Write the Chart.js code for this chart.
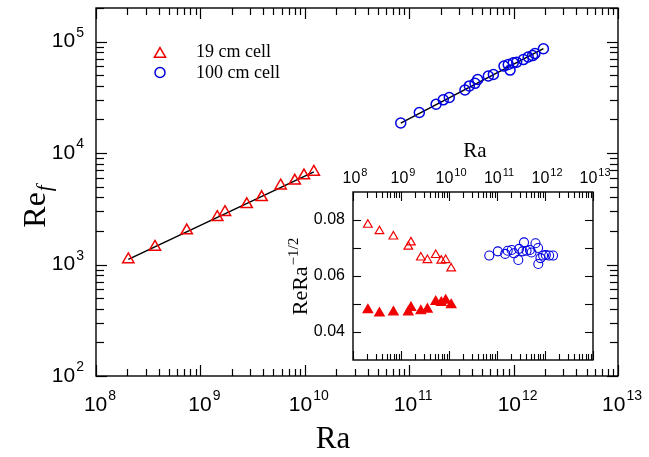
<!DOCTYPE html>
<html>
<head>
<meta charset="utf-8">
<script src="https://cdn.jsdelivr.net/npm/chart.js@4.4.1/dist/chart.umd.min.js"></script>
<style>
  html, body { margin: 0; padding: 0; background: #fff; }
  #wrap { position: relative; width: 649px; height: 457px; }
  #main { position: absolute; left: 0; top: 0; }
  #inset { position: absolute; left: 270px; top: 130px; }
</style>
</head>
<body>
<div id="wrap">
  <canvas id="main" width="649" height="457"></canvas>
  <canvas id="inset" width="360" height="240"></canvas>
</div>
<script>
// main plot: Re_f against Ra
const raSmall = [2.04e8, 3.67e8, 7.40e8, 1.45e9, 1.72e9, 2.78e9, 3.86e9, 5.87e9, 8.02e9, 9.82e9, 1.22e10];
const reSmall = [1112, 1439, 2014, 2661, 2944, 3467, 4009, 5093, 5636, 6281, 6776];
const raBig = [8.30e10, 1.25e11, 1.81e11, 2.12e11, 2.42e11, 3.42e11, 3.77e11, 4.27e11, 4.53e11, 5.73e11, 6.40e11,
               8.09e11, 8.89e11, 9.25e11, 9.93e11, 1.07e12, 1.24e12, 1.38e12, 1.52e12, 1.60e12, 1.93e12];
const reBig = [18580, 23120, 27420, 29990, 31480, 36810, 39990, 42170, 45710, 49090, 50700,
               60260, 62230, 55460, 64420, 65310, 68870, 72780, 74820, 77980, 86300];

// fitted lines, end points
const fitSmallRa = [2.04e8, 1.22e10];
const fitSmallRe = [1112, 6776];
const fitBigRa = [8.30e10, 1.93e12];
const fitBigRe = [18580, 86300];

// inset: Re Ra^-1/2
const insetRaSmall = [2.04e8, 3.56e8, 6.94e8, 1.42e9, 1.61e9, 2.59e9, 3.55e9, 5.29e9, 6.90e9, 8.51e9, 1.11e10];
const insetOpen = [0.0783, 0.0760, 0.0741, 0.0705, 0.0720, 0.0666, 0.0657, 0.0675, 0.0655, 0.0657, 0.0627];
const insetFilled = [0.0479, 0.0467, 0.0471, 0.0471, 0.0487, 0.0475, 0.0481, 0.0508, 0.0505, 0.0513, 0.0497];
const insetRaBig = [6.90e10, 1.04e11, 1.48e11, 1.67e11, 2.02e11, 2.26e11, 2.78e11, 2.88e11, 3.41e11, 3.65e11, 4.13e11,
                    4.85e11, 5.24e11, 6.34e11, 7.19e11, 7.25e11, 8.04e11, 9.14e11, 1.04e12, 1.22e12, 1.47e12];
const insetBig = [0.0673, 0.0688, 0.0679, 0.0690, 0.0693, 0.0681, 0.0657, 0.0697, 0.0688, 0.0720, 0.0690,
                  0.0693, 0.0684, 0.0717, 0.0700, 0.0643, 0.0664, 0.0673, 0.0675, 0.0673, 0.0673];

// tick labels
const xExps = [8, 9, 10, 11, 12, 13];
const yExps = [2, 3, 4, 5];
const insetYTicks = [0.04, 0.06, 0.08];
const insetYMinor = [0.05, 0.07];
const legendLabels = ['19 cm cell', '100 cm cell'];

const RED = '#f00000';
const BLUE = '#0000e0';
const SANS = '"Liberation Sans", Arial, sans-serif';
const SERIF = '"Liberation Serif", "Times New Roman", serif';

function pts(xs, ys) {
    return xs.map((v, i) => ({x: v, y: ys[i]}));
}

// 1..9 x 10^e inside [min, max]
function logTicks(min, max) {
    const out = [];
    for (let e = Math.floor(Math.log10(min)); e <= Math.ceil(Math.log10(max)); e++) {
        for (let k = 1; k <= 9; k++) {
            const v = k * Math.pow(10, e);
            if (v >= min * 0.999 && v <= max * 1.001) out.push({v: v, major: k === 1});
        }
    }
    return out;
}

function seg(ctx, x1, y1, x2, y2) {
    ctx.beginPath();
    ctx.moveTo(x1, y1);
    ctx.lineTo(x2, y2);
    ctx.stroke();
}

// "10" with superscript exponent
function powLabel(ctx, exp, x, y, align, size, supSize) {
    ctx.font = size + 'px ' + SANS;
    const w1 = ctx.measureText('10').width;
    ctx.font = supSize + 'px ' + SANS;
    const w2 = ctx.measureText(String(exp)).width;
    const total = w1 + w2 + 1;
    const left = align === 'right' ? x - total : x - total / 2;
    ctx.textAlign = 'left';
    ctx.textBaseline = 'middle';
    ctx.font = size + 'px ' + SANS;
    ctx.fillText('10', left, y);
    ctx.font = supSize + 'px ' + SANS;
    ctx.fillText(String(exp), left + w1 + 1, y - size * 0.4);
}

function marker(ctx, style, r, x, y, color, fill) {
    ctx.save();
    ctx.strokeStyle = color;
    ctx.fillStyle = fill ? color : 'rgba(0,0,0,0)';
    ctx.lineWidth = 1.5;
    Chart.helpers.drawPoint(ctx, {pointStyle: style, radius: r, borderWidth: 1.5, rotation: 0}, x, y);
    ctx.restore();
}

const mainDecor = {
    id: 'mainDecor',
    afterDraw(chart) {
        const {ctx, chartArea: a, scales: {x, y}} = chart;
        ctx.save();
        ctx.strokeStyle = '#000';
        ctx.fillStyle = '#000';
        ctx.lineWidth = 1.4;
        ctx.strokeRect(a.left, a.top, a.right - a.left, a.bottom - a.top);

        ctx.lineWidth = 1.2;
        logTicks(x.min, x.max).forEach(t => {
            const px = Math.round(x.getPixelForValue(t.v)) + 0.5;
            const len = t.major ? 11 : 7;
            seg(ctx, px, a.bottom, px, a.bottom - len);
            seg(ctx, px, a.top, px, a.top + len);
        });
        logTicks(y.min, y.max).forEach(t => {
            const py = Math.round(y.getPixelForValue(t.v)) + 0.5;
            const len = t.major ? 11 : 8;
            seg(ctx, a.left, py, a.left + len, py);
            seg(ctx, a.right, py, a.right - len, py);
        });

        ctx.fillStyle = '#000';
        xExps.forEach(e => powLabel(ctx, e, x.getPixelForValue(Math.pow(10, e)) + 4, a.bottom + 29, 'center', 21, 14));
        yExps.forEach(e => powLabel(ctx, e, a.left - 12, y.getPixelForValue(Math.pow(10, e)), 'right', 21, 14));

        // axis titles
        ctx.textBaseline = 'alphabetic';
        ctx.textAlign = 'center';
        ctx.font = '31px ' + SERIF;
        ctx.fillText('Ra', 333, 448);

        ctx.save();
        ctx.translate(45, 207);
        ctx.rotate(-Math.PI / 2);
        ctx.font = '32px ' + SERIF;
        const wRe = ctx.measureText('Re').width;
        ctx.font = 'italic 21px ' + SERIF;
        const wF = ctx.measureText('f').width;
        const start = -(wRe + wF) / 2;
        ctx.textAlign = 'left';
        ctx.font = '32px ' + SERIF;
        ctx.fillText('Re', start, 0);
        ctx.font = 'italic 21px ' + SERIF;
        ctx.fillText('f', start + wRe + 1, 6);
        ctx.restore();

        // legend
        marker(ctx, 'triangle', 6.5, 160, 54, RED, false);
        marker(ctx, 'circle', 5, 160, 72.5, BLUE, false);
        ctx.fillStyle = '#000';
        ctx.font = '18px ' + SERIF;
        ctx.textAlign = 'left';
        ctx.textBaseline = 'middle';
        ctx.fillText(legendLabels[0], 196, 52.5);
        ctx.fillText(legendLabels[1], 196, 73);
        ctx.restore();
    }
};

const insetDecor = {
    id: 'insetDecor',
    afterDraw(chart) {
        const {ctx, chartArea: a, scales: {x, y}} = chart;
        ctx.save();
        ctx.strokeStyle = '#000';
        ctx.fillStyle = '#000';
        ctx.lineWidth = 1.4;
        ctx.strokeRect(a.left, a.top, a.right - a.left, a.bottom - a.top);

        ctx.lineWidth = 1.1;
        logTicks(x.min, x.max).forEach(t => {
            const px = Math.round(x.getPixelForValue(t.v)) + 0.5;
            const len = t.major ? 9 : 6;
            seg(ctx, px, a.bottom, px, a.bottom - len);
            seg(ctx, px, a.top, px, a.top + len);
        });
        insetYTicks.concat(insetYMinor).forEach(v => {
            const py = Math.round(y.getPixelForValue(v)) + 0.5;
            seg(ctx, a.left, py, a.left + 8, py);
            seg(ctx, a.right, py, a.right - 8, py);
        });

        xExps.forEach(e => powLabel(ctx, e, x.getPixelForValue(Math.pow(10, e)) + 2, a.top - 13, 'center', 16, 11));
        ctx.font = '16px ' + SANS;
        ctx.textAlign = 'right';
        ctx.textBaseline = 'middle';
        insetYTicks.forEach(v => ctx.fillText(v.toFixed(2), a.left - 8, y.getPixelForValue(v)));

        ctx.font = '21px ' + SERIF;
        ctx.textAlign = 'center';
        ctx.textBaseline = 'alphabetic';
        ctx.fillText('Ra', (a.left + a.right) / 2 + 2, 27);

        // rotated y title, baseline near page x = 307
        ctx.save();
        ctx.translate(a.left - 46, 147);
        ctx.rotate(-Math.PI / 2);
        ctx.font = '22px ' + SERIF;
        const w1 = ctx.measureText('ReRa').width;
        ctx.font = '15px ' + SERIF;
        const w2 = ctx.measureText('\u22121/2').width;
        const start = -(w1 + w2) / 2;
        ctx.textAlign = 'left';
        ctx.font = '22px ' + SERIF;
        ctx.fillText('ReRa', start, 0);
        ctx.font = '15px ' + SERIF;
        ctx.fillText('\u22121/2', start + w1 + 1, -9);
        ctx.restore();
        ctx.restore();
    }
};

const noAxis = {grid: {display: false}, border: {display: false}, ticks: {display: false}};

new Chart(document.getElementById('main'), {
    type: 'scatter',
    data: {
        datasets: [
            {data: pts(raSmall, reSmall), pointStyle: 'triangle', pointRadius: 6.5, borderWidth: 1.5,
                borderColor: RED, backgroundColor: 'rgba(0,0,0,0)'},
            {data: pts(raBig, reBig), pointStyle: 'circle', pointRadius: 5, borderWidth: 1.5,
                borderColor: BLUE, backgroundColor: 'rgba(0,0,0,0)'},
            {data: pts(fitSmallRa, fitSmallRe), showLine: true, pointRadius: 0, borderColor: '#000', borderWidth: 1.5},
            {data: pts(fitBigRa, fitBigRe), showLine: true, pointRadius: 0, borderColor: '#000', borderWidth: 1.5}
        ]
    },
    options: {
        responsive: false,
        animation: false,
        devicePixelRatio: 1,
        layout: {padding: {left: 0, top: 4, right: 31, bottom: 0}},
        plugins: {legend: {display: false}, tooltip: {enabled: false}},
        scales: {
            x: Object.assign({type: 'logarithmic', min: 1e8, max: 1e13,
                afterFit: s => { s.height = 81; }}, noAxis),
            y: Object.assign({type: 'logarithmic', min: 1e2, max: 2e5,
                afterFit: s => { s.width = 96; }}, noAxis)
        }
    },
    plugins: [mainDecor]
});

new Chart(document.getElementById('inset'), {
    type: 'scatter',
    data: {
        datasets: [
            {data: pts(insetRaSmall, insetOpen), pointStyle: 'triangle', pointRadius: 5, borderWidth: 1.2,
                borderColor: RED, backgroundColor: 'rgba(0,0,0,0)'},
            {data: pts(insetRaSmall, insetFilled), pointStyle: 'triangle', pointRadius: 5.5, borderWidth: 1.2,
                borderColor: RED, backgroundColor: RED},
            {data: pts(insetRaBig, insetBig), pointStyle: 'circle', pointRadius: 4.5, borderWidth: 1.1,
                borderColor: BLUE, backgroundColor: 'rgba(0,0,0,0)'}
        ]
    },
    options: {
        responsive: false,
        animation: false,
        devicePixelRatio: 1,
        layout: {padding: {left: 0, top: 62, right: 37, bottom: 0}},
        plugins: {legend: {display: false}, tooltip: {enabled: false}},
        scales: {
            x: Object.assign({type: 'logarithmic', min: 1e8, max: 1e13,
                afterFit: s => { s.height = 10; }}, noAxis),
            y: Object.assign({type: 'linear', min: 0.03, max: 0.09,
                afterFit: s => { s.width = 83; }}, noAxis)
        }
    },
    plugins: [insetDecor]
});
</script>
</body>
</html>
